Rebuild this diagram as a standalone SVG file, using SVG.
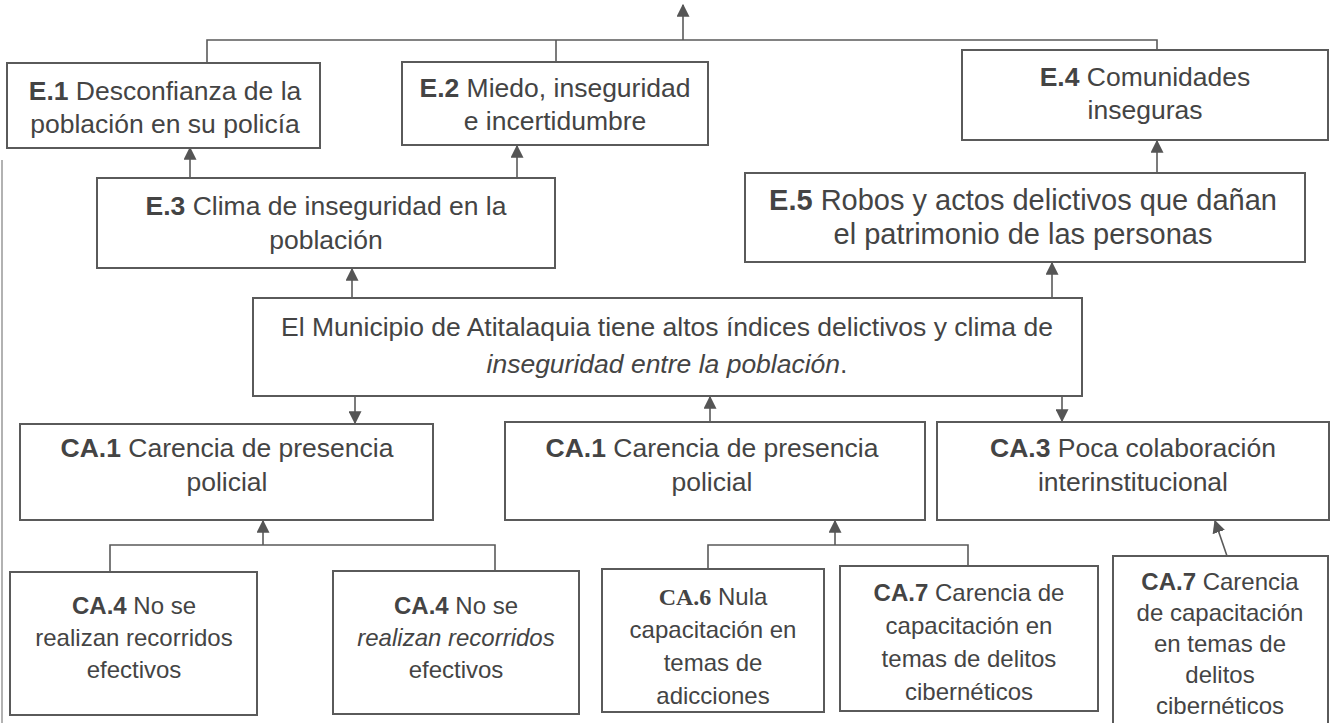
<svg xmlns="http://www.w3.org/2000/svg" width="1338" height="723" viewBox="0 0 1338 723">
<defs>
<marker id="ah" viewBox="0 0 10 10" refX="9" refY="5" markerWidth="13" markerHeight="13" markerUnits="userSpaceOnUse" orient="auto">
<path d="M0,0 L10,5 L0,10 z" fill="#555"/>
</marker>
<style>
.box{fill:#fff;stroke:#5a5a5a;stroke-width:2}
.t{font-family:"Liberation Sans",Arial,sans-serif;font-size:26.5px;fill:#444;text-anchor:middle}
.s{font-size:24px}
.b{font-weight:bold}
.i{font-style:italic}
.ln{fill:none;stroke:#5a5a5a;stroke-width:1.6}
.ar{fill:none;stroke:#5a5a5a;stroke-width:1.6;marker-end:url(#ah)}
</style>
</defs>
<rect width="1338" height="723" fill="#fff"/>
<line x1="2" y1="160" x2="2" y2="723" stroke="#999" stroke-width="1.5"/>

<g id="connectors">
<path class="ar" d="M683,40 V5"/>
<path class="ln" d="M207,62 V40 H1157 V50"/>
<path class="ln" d="M556,62 V40"/>
<path class="ar" d="M190,178 V148"/>
<path class="ar" d="M517,178 V146"/>
<path class="ar" d="M1157,172 V141"/>
<path class="ar" d="M352,298 V269"/>
<path class="ar" d="M1052,298 V263"/>
<path class="ar" d="M355,396 V423"/>
<path class="ar" d="M710,422 V397"/>
<path class="ar" d="M1062,396 V421"/>
<path class="ln" d="M110,572 V545 H495 V571"/>
<path class="ar" d="M263,545 V521"/>
<path class="ln" d="M708,569 V545 H968 V566"/>
<path class="ar" d="M835,545 V521"/>
<path class="ar" d="M1227,556 L1215,521"/>
</g>

<g id="E1"><rect class="box" x="7" y="63" width="313" height="85"/>
<text class="t" x="165" y="100"><tspan class="b">E.1</tspan> Desconfianza de la</text>
<text class="t" x="165" y="133">población en su policía</text></g>

<g id="E2"><rect class="box" x="402" y="62" width="306" height="83"/>
<text class="t" x="555" y="97"><tspan class="b">E.2</tspan> Miedo, inseguridad</text>
<text class="t" x="555" y="130">e incertidumbre</text></g>

<g id="E4"><rect class="box" x="962" y="50" width="366" height="90"/>
<text class="t" x="1145" y="86"><tspan class="b">E.4</tspan> Comunidades</text>
<text class="t" x="1145" y="119">inseguras</text></g>

<g id="E3"><rect class="box" x="97" y="178" width="458" height="90"/>
<text class="t" x="326" y="215"><tspan class="b">E.3</tspan> Clima de inseguridad en la</text>
<text class="t" x="326" y="249">población</text></g>

<g id="E5"><rect class="box" x="745" y="173" width="560" height="89"/>
<text class="t" x="1023" y="210" style="font-size:29px"><tspan class="b">E.5</tspan> Robos y actos delictivos que dañan</text>
<text class="t" x="1023" y="244" style="font-size:29px">el patrimonio de las personas</text></g>

<g id="main"><rect class="box" x="253" y="298" width="829" height="98"/>
<text class="t" x="667" y="336" style="font-size:26.5px">El Municipio de Atitalaquia tiene altos índices delictivos y clima de</text>
<text class="t i" x="667" y="373" style="font-size:26.5px">inseguridad entre la población<tspan font-style="normal">.</tspan></text></g>

<g id="CA1a"><rect class="box" x="20" y="424" width="413" height="96"/>
<text class="t" x="227" y="457"><tspan class="b">CA.1</tspan> Carencia de presencia</text>
<text class="t" x="227" y="491">policial</text></g>

<g id="CA1b"><rect class="box" x="505" y="422" width="420" height="98"/>
<text class="t" x="712" y="457"><tspan class="b">CA.1</tspan> Carencia de presencia</text>
<text class="t" x="712" y="491">policial</text></g>

<g id="CA3"><rect class="box" x="937" y="422" width="392" height="98"/>
<text class="t" x="1133" y="457"><tspan class="b">CA.3</tspan> Poca colaboración</text>
<text class="t" x="1133" y="491">interinstitucional</text></g>

<g id="CA4a"><rect class="box" x="10" y="572" width="247" height="143"/>
<text class="t s" x="134" y="614"><tspan class="b">CA.4</tspan> No se</text>
<text class="t s" x="134" y="646">realizan recorridos</text>
<text class="t s" x="134" y="678">efectivos</text></g>

<g id="CA4b"><rect class="box" x="333" y="571" width="246" height="143"/>
<text class="t s" x="456" y="614"><tspan class="b">CA.4</tspan> No se</text>
<text class="t s i" x="456" y="646">realizan recorridos</text>
<text class="t s" x="456" y="678">efectivos</text></g>

<g id="CA6"><rect class="box" x="602" y="569" width="222" height="143"/>
<text class="t s" x="713" y="605"><tspan class="b" style="font-family:'Liberation Serif',serif">CA.6</tspan> Nula</text>
<text class="t s" x="713" y="638">capacitación en</text>
<text class="t s" x="713" y="671">temas de</text>
<text class="t s" x="713" y="704">adicciones</text></g>

<g id="CA7a"><rect class="box" x="840" y="566" width="258" height="145"/>
<text class="t s" x="969" y="601"><tspan class="b">CA.7</tspan> Carencia de</text>
<text class="t s" x="969" y="634">capacitación en</text>
<text class="t s" x="969" y="667">temas de delitos</text>
<text class="t s" x="969" y="700">cibernéticos</text></g>

<g id="CA7b"><rect class="box" x="1113" y="556" width="215" height="172"/>
<text class="t s" x="1220" y="590"><tspan class="b">CA.7</tspan> Carencia</text>
<text class="t s" x="1220" y="621">de capacitación</text>
<text class="t s" x="1220" y="652">en temas de</text>
<text class="t s" x="1220" y="683">delitos</text>
<text class="t s" x="1220" y="714">cibernéticos</text></g>
</svg>
